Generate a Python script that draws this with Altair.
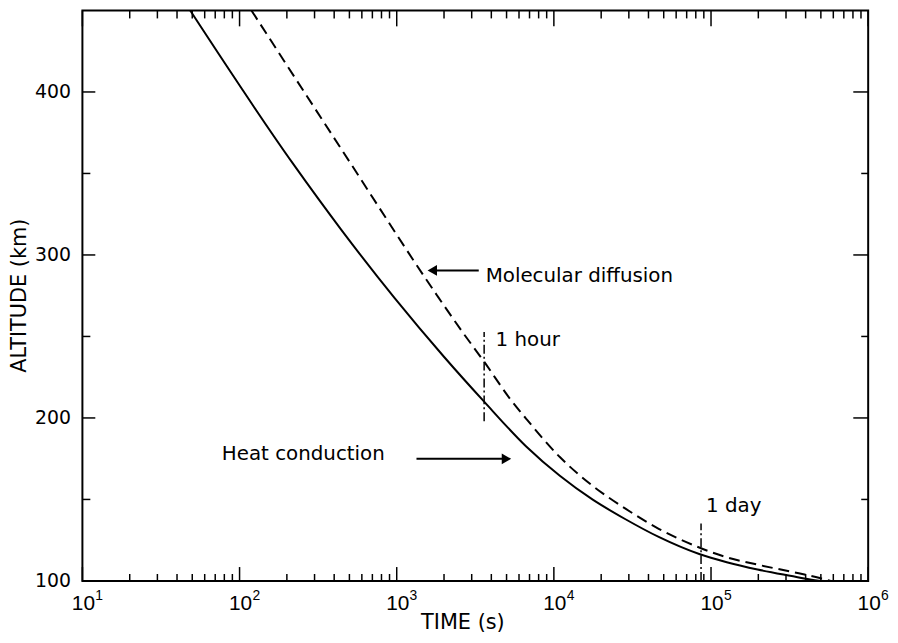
import altair as alt
import pandas as pd

FONT = "DejaVu Sans"
NUM_FONT = "Liberation Sans"

# ---- data ----
# Heat conduction (solid curve): time (s) vs altitude (km)
heat_time = [48.5, 218.8, 446.7, 970.5, 2004, 3600, 6668, 10914, 17579, 28379, 46452,
             84140, 125900, 197700, 318400, 457100, 524800]
heat_alt = [450, 356, 315.1, 273.5, 237.4, 210, 182.5, 164.5, 150, 138, 127,
            116.5, 111.5, 107, 103.2, 100.5, 100]

# Molecular diffusion (dashed curve)
diff_time = [119, 450.8, 1811, 2630, 3600, 5284, 6668, 10914, 17579, 28379, 46452,
             84140, 125900, 197700, 318400, 492000, 575400]
diff_alt = [450, 364, 275, 252.5, 234.5, 211.5, 199.5, 176, 158.5, 144.5, 132,
            120.5, 114.5, 110, 105.8, 101.8, 100]

# axis ticks and labels
x_major = [10, 100, 1000, 10000, 100000, 1000000]
x_label_base = "10"
x_label_exp = ["1", "2", "3", "4", "5", "6"]
x_minor = [k * 10 ** d for d in range(1, 6) for k in range(2, 10)]
y_major = [100, 200, 300, 400]
y_minor = [150, 250, 350]

# annotations
label_text = ["Molecular diffusion", "1 hour", "Heat conduction", "1 day"]
label_time = [3681, 4256, 77.1, 93030]
label_alt = [287, 247.6, 177.9, 146]

marker_time = [3600, 86400]          # 1 hour, 1 day
marker_lo = [198, 100]
marker_hi = [252.8, 135.3]

arrow_from = [3327, 1336]
arrow_to = [1684, 4991]
arrow_alt = [290.5, 174.9]
arrow_shape = ["triangle-left", "triangle-right"]

W, H = 792, 575

xs = alt.Scale(type="log", domain=[10, 1e6], nice=False)
ys = alt.Scale(domain=[100, 450], nice=False, zero=False)

heat_df = pd.DataFrame({"time": heat_time, "alt": heat_alt})
diff_df = pd.DataFrame({"time": diff_time, "alt": diff_alt})

x_axis = alt.Axis(
    values=x_major, labels=False,
    title="TIME (s)",
    ticks=False, tickSize=0, domain=False, grid=False,
    titleX=383, titleY=42, titleBaseline="middle", titleFontSize=21,
)
y_axis = alt.Axis(
    values=y_major,
    title="ALTITUDE (km)",
    ticks=False, tickSize=0, domain=False, grid=False,
    labelFlush=False, labelPadding=12, labelFontSize=19,
    titleX=-63, titleY=287, titleAngle=-90, titleBaseline="middle",
    titleAlign="center", titleFontSize=21,
)

heat = alt.Chart(heat_df).mark_line(
    color="black", strokeWidth=2, interpolate="monotone", clip=True
).encode(
    x=alt.X("time:Q", scale=xs, axis=x_axis),
    y=alt.Y("alt:Q", scale=ys, axis=y_axis),
)

diff = alt.Chart(diff_df).mark_line(
    color="black", strokeWidth=2, strokeDash=[11, 6], interpolate="monotone", clip=True
).encode(
    x=alt.X("time:Q", scale=xs),
    y=alt.Y("alt:Q", scale=ys),
)

def xticks(vals, y1, y2):
    return alt.Chart(pd.DataFrame({"time": vals})).mark_rule(
        color="black", strokeWidth=1.5
    ).encode(x=alt.X("time:Q", scale=xs), y=alt.value(y1), y2=alt.value(y2))

def yticks(vals, x1, x2):
    return alt.Chart(pd.DataFrame({"alt": vals})).mark_rule(
        color="black", strokeWidth=1.5
    ).encode(y=alt.Y("alt:Q", scale=ys), x=alt.value(x1), x2=alt.value(x2))

tick_layers = [
    xticks(x_major, H, H - 14), xticks(x_minor, H, H - 7),
    xticks(x_major, 0, 16), xticks(x_minor, 0, 8),
    yticks(y_major, 0, 13), yticks(y_minor, 0, 8),
    yticks(y_major, W, W - 15), yticks(y_minor, W, W - 7),
]

xlab_df = pd.DataFrame({"time": x_major, "exp": x_label_exp})
xlab_base = alt.Chart(xlab_df).mark_text(
    align="center", baseline="top", fontSize=21, font=NUM_FONT, color="black", dx=1
).encode(x=alt.X("time:Q", scale=xs), y=alt.value(H + 12), text=alt.value(x_label_base))
xlab_exp = alt.Chart(xlab_df).mark_text(
    align="left", baseline="top", fontSize=14, font=NUM_FONT, color="black", dx=13
).encode(x=alt.X("time:Q", scale=xs), y=alt.value(H + 8), text="exp:N")

markers = alt.Chart(pd.DataFrame({"time": marker_time, "lo": marker_lo, "hi": marker_hi})).mark_rule(
    color="black", strokeWidth=1.5, strokeDash=[9, 3, 2, 3]
).encode(x=alt.X("time:Q", scale=xs), y=alt.Y("lo:Q", scale=ys), y2="hi:Q")

arrow_df = pd.DataFrame({"t1": arrow_from, "t2": arrow_to, "alt": arrow_alt, "shape": arrow_shape})
arrow_lines = alt.Chart(arrow_df).mark_rule(color="black", strokeWidth=2).encode(
    x=alt.X("t1:Q", scale=xs), x2="t2:Q", y=alt.Y("alt:Q", scale=ys)
)
arrow_heads = alt.Chart(arrow_df).mark_point(
    filled=True, color="black", size=120, opacity=1
).encode(
    x=alt.X("t2:Q", scale=xs), y=alt.Y("alt:Q", scale=ys),
    shape=alt.Shape("shape:N", scale=None),
)

labels = alt.Chart(pd.DataFrame({"time": label_time, "alt": label_alt, "text": label_text})).mark_text(
    align="left", baseline="middle", fontSize=20, font=FONT, color="black"
).encode(x=alt.X("time:Q", scale=xs), y=alt.Y("alt:Q", scale=ys), text="text:N")

chart = alt.layer(
    heat, diff, *tick_layers, xlab_base, xlab_exp, markers, arrow_lines, arrow_heads, labels
).properties(
    width=W, height=H,
    autosize=alt.AutoSizeParams(type="none"),
    padding={"left": 75, "top": 0, "right": 22, "bottom": 52},
    background="white",
).configure_view(
    stroke="black", strokeWidth=2
).configure_axis(
    labelFont=FONT, titleFont=FONT, labelColor="black", titleColor="black",
    titleFontWeight="normal",
)

chart.save("out.html", embed_options={"renderer": "svg", "actions": False})
